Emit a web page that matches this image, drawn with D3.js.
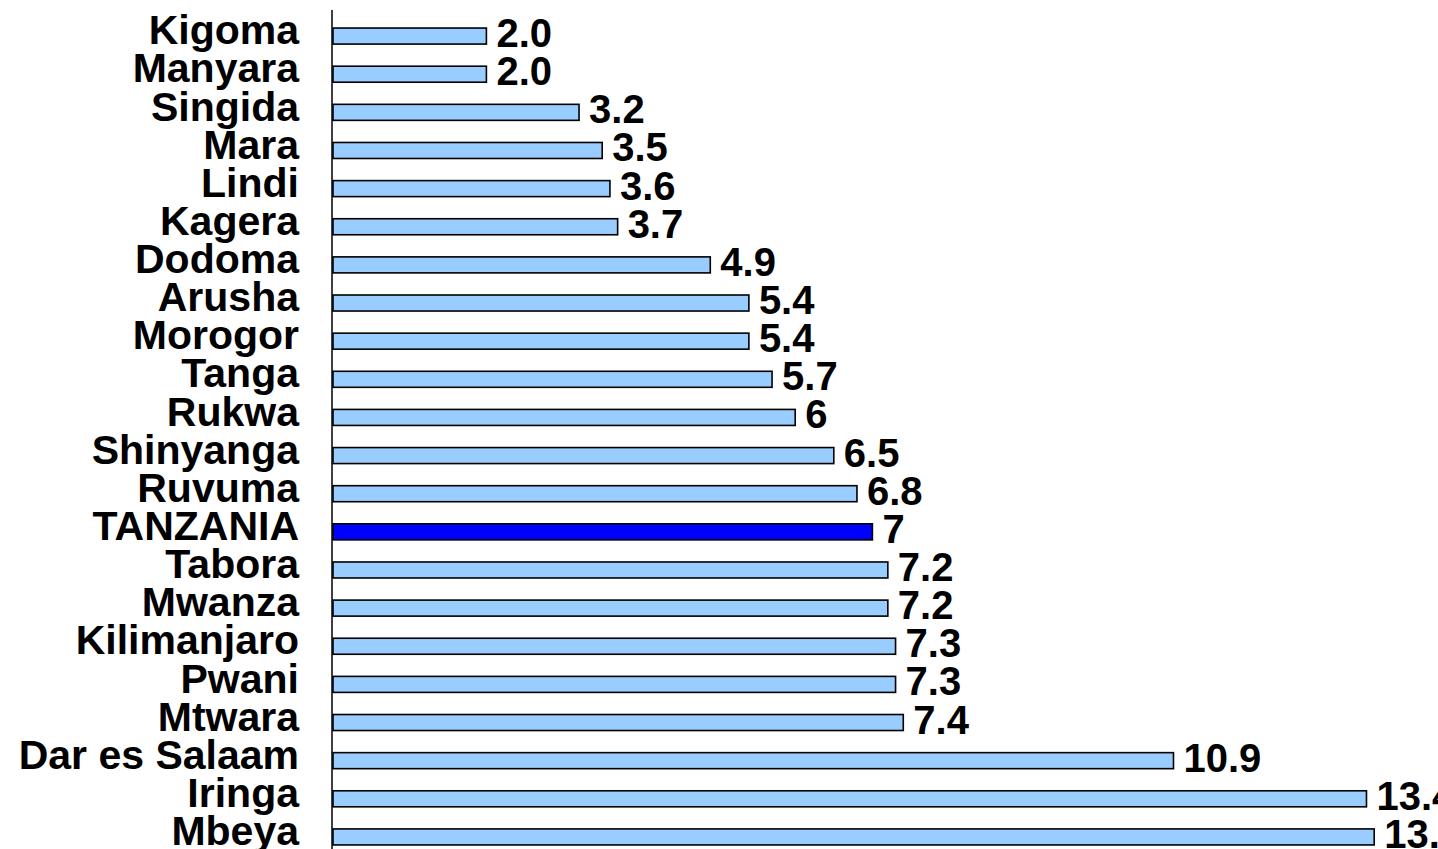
<!DOCTYPE html>
<html>
<head>
<meta charset="utf-8">
<script src="https://cdn.jsdelivr.net/npm/d3@7/dist/d3.min.js"></script>
<style>
  html, body { margin: 0; padding: 0; background: #fff; overflow: hidden; }
  svg { display: block; }
  text { font-family: "Liberation Sans", Arial, sans-serif; font-weight: bold; }
</style>
</head>
<body>
<svg id="chart" width="1438" height="849"></svg>
<script>
const regions = ["Kigoma","Manyara","Singida","Mara","Lindi","Kagera","Dodoma","Arusha","Morogor","Tanga","Rukwa","Shinyanga","Ruvuma","TANZANIA","Tabora","Mwanza","Kilimanjaro","Pwani","Mtwara","Dar es Salaam","Iringa","Mbeya"];
const values = [2.0,2.0,3.2,3.5,3.6,3.7,4.9,5.4,5.4,5.7,6,6.5,6.8,7,7.2,7.2,7.3,7.3,7.4,10.9,13.4,13.5];
const valueLabels = ["2.0","2.0","3.2","3.5","3.6","3.7","4.9","5.4","5.4","5.7","6","6.5","6.8","7","7.2","7.2","7.3","7.3","7.4","10.9","13.4","13.5"];
const highlight = "TANZANIA";

const svg = d3.select("#chart");
const x0 = 332;
const x = d3.scaleLinear().domain([0, 14]).range([x0, x0 + 14 * 77.2]);
const y = d3.scaleBand().domain(regions).range([17, 856]).paddingInner(0.58).paddingOuter(0.29);

// bars
svg.append("g").selectAll("rect").data(regions).join("rect")
  .attr("x", x(0) + 1)
  .attr("y", d => y(d))
  .attr("width", (d, i) => x(values[i]) - x(0) - 1)
  .attr("height", y.bandwidth())
  .attr("fill", d => d === highlight ? "#0000ff" : "#99ccff")
  .attr("stroke", "#000")
  .attr("stroke-width", 1.6);

// value labels
svg.append("g").selectAll("text").data(regions).join("text")
  .attr("x", (d, i) => x(values[i]) + 10)
  .attr("y", d => y(d) + y.bandwidth() / 2 + 11)
  .attr("font-size", 40)
  .attr("fill", "#000")
  .text((d, i) => valueLabels[i]);

// category axis
const axis = d3.axisLeft(y).tickSize(0).tickPadding(33);
const gAxis = svg.append("g").attr("transform", `translate(${x0},0)`).call(axis);
gAxis.select(".domain").remove();
gAxis.selectAll("text")
  .attr("font-size", 41)
  .attr("fill", "#000")
  .attr("dy", "0.2em")
  .style("font-family", "'Liberation Sans', Arial, sans-serif")
  .style("font-weight", "bold");

svg.append("line")
  .attr("x1", x0).attr("x2", x0)
  .attr("y1", 10).attr("y2", 849)
  .attr("stroke", "#000").attr("stroke-width", 1.5);
</script>
</body>
</html>
